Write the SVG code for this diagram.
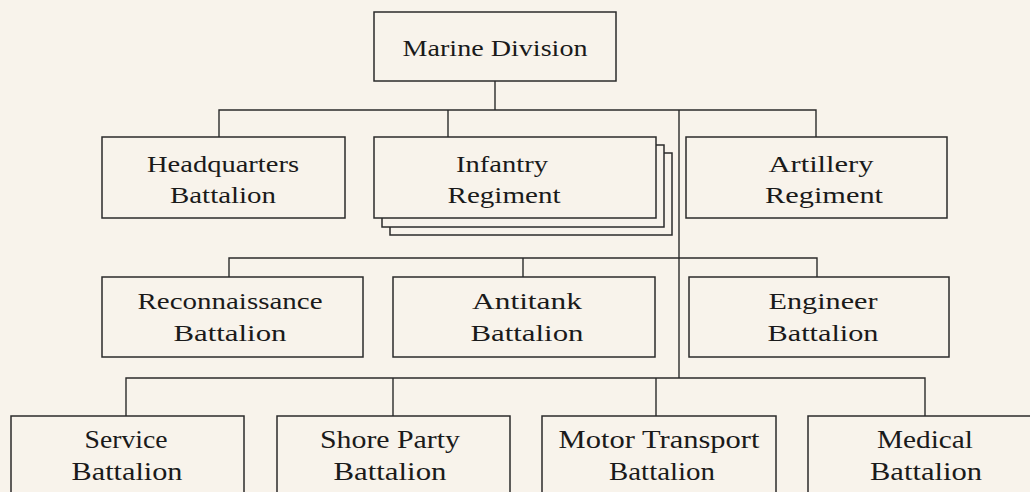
<svg xmlns="http://www.w3.org/2000/svg" width="1030" height="492" viewBox="0 0 1030 492">
<style>
.bg{fill:#f8f3eb}
.box{fill:#f8f3eb;stroke:#2b2b2b;stroke-width:1.5}
.ln{fill:none;stroke:#2b2b2b;stroke-width:1.4}
.t{font-family:"Liberation Serif","Times New Roman",serif;font-size:24px;fill:#1a1a1a;text-anchor:middle}
.b{font-family:"Liberation Serif","Times New Roman",serif;font-size:26px;fill:#1a1a1a;text-anchor:middle}
</style>
<rect class="bg" x="0" y="0" width="1030" height="492"/>
<g id="connectors">
<path class="ln" d="M495 81V110M219 137V110H816V137M448 110V137M679 110V378"/>
<path class="ln" d="M229 277V258H817V277M523 258V277"/>
<path class="ln" d="M126 416V378H925V416M393 378V416M656 378V416"/>
</g>
<g id="marine-division">
<rect class="box" x="374" y="12" width="242" height="69"/>
<text class="t" x="495" y="56" textLength="185" lengthAdjust="spacingAndGlyphs">Marine Division</text>
</g>
<g id="headquarters-battalion">
<rect class="box" x="102" y="137" width="243" height="81"/>
<text class="t" x="223" y="172" textLength="152" lengthAdjust="spacingAndGlyphs">Headquarters</text>
<text class="t" x="223" y="203" textLength="106" lengthAdjust="spacingAndGlyphs">Battalion</text>
</g>
<g id="infantry-regiment">
<rect class="box" x="390" y="153" width="282" height="82"/>
<rect class="box" x="382" y="145" width="282" height="82"/>
<rect class="box" x="374" y="137" width="282" height="81"/>
<text class="t" x="502" y="172" textLength="92" lengthAdjust="spacingAndGlyphs">Infantry</text>
<text class="t" x="504" y="203" textLength="113" lengthAdjust="spacingAndGlyphs">Regiment</text>
</g>
<g id="artillery-regiment">
<rect class="box" x="686" y="137" width="261" height="81"/>
<text class="t" x="821" y="172" textLength="105" lengthAdjust="spacingAndGlyphs">Artillery</text>
<text class="t" x="824" y="203" textLength="118" lengthAdjust="spacingAndGlyphs">Regiment</text>
</g>
<g id="reconnaissance-battalion">
<rect class="box" x="102" y="277" width="261" height="80"/>
<text class="t" x="230" y="309" textLength="185" lengthAdjust="spacingAndGlyphs">Reconnaissance</text>
<text class="t" x="230" y="341" textLength="113" lengthAdjust="spacingAndGlyphs">Battalion</text>
</g>
<g id="antitank-battalion">
<rect class="box" x="393" y="277" width="262" height="80"/>
<text class="t" x="527" y="309" textLength="110" lengthAdjust="spacingAndGlyphs">Antitank</text>
<text class="t" x="527" y="341" textLength="113" lengthAdjust="spacingAndGlyphs">Battalion</text>
</g>
<g id="engineer-battalion">
<rect class="box" x="689" y="277" width="260" height="80"/>
<text class="t" x="823" y="309" textLength="109" lengthAdjust="spacingAndGlyphs">Engineer</text>
<text class="t" x="823" y="341" textLength="111" lengthAdjust="spacingAndGlyphs">Battalion</text>
</g>
<g id="service-battalion">
<rect class="box" x="11" y="416" width="233" height="100"/>
<text class="b" x="126" y="448" textLength="83" lengthAdjust="spacingAndGlyphs">Service</text>
<text class="b" x="127" y="480" textLength="111" lengthAdjust="spacingAndGlyphs">Battalion</text>
</g>
<g id="shore-party-battalion">
<rect class="box" x="277" y="416" width="233" height="100"/>
<text class="b" x="390" y="448" textLength="140" lengthAdjust="spacingAndGlyphs">Shore Party</text>
<text class="b" x="390" y="480" textLength="113" lengthAdjust="spacingAndGlyphs">Battalion</text>
</g>
<g id="motor-transport-battalion">
<rect class="box" x="542" y="416" width="234" height="100"/>
<text class="b" x="659" y="448" textLength="201" lengthAdjust="spacingAndGlyphs">Motor Transport</text>
<text class="b" x="662" y="480" textLength="106" lengthAdjust="spacingAndGlyphs">Battalion</text>
</g>
<g id="medical-battalion">
<rect class="box" x="808" y="416" width="234" height="100"/>
<text class="b" x="925" y="448" textLength="96" lengthAdjust="spacingAndGlyphs">Medical</text>
<text class="b" x="926" y="480" textLength="112" lengthAdjust="spacingAndGlyphs">Battalion</text>
</g>
</svg>
